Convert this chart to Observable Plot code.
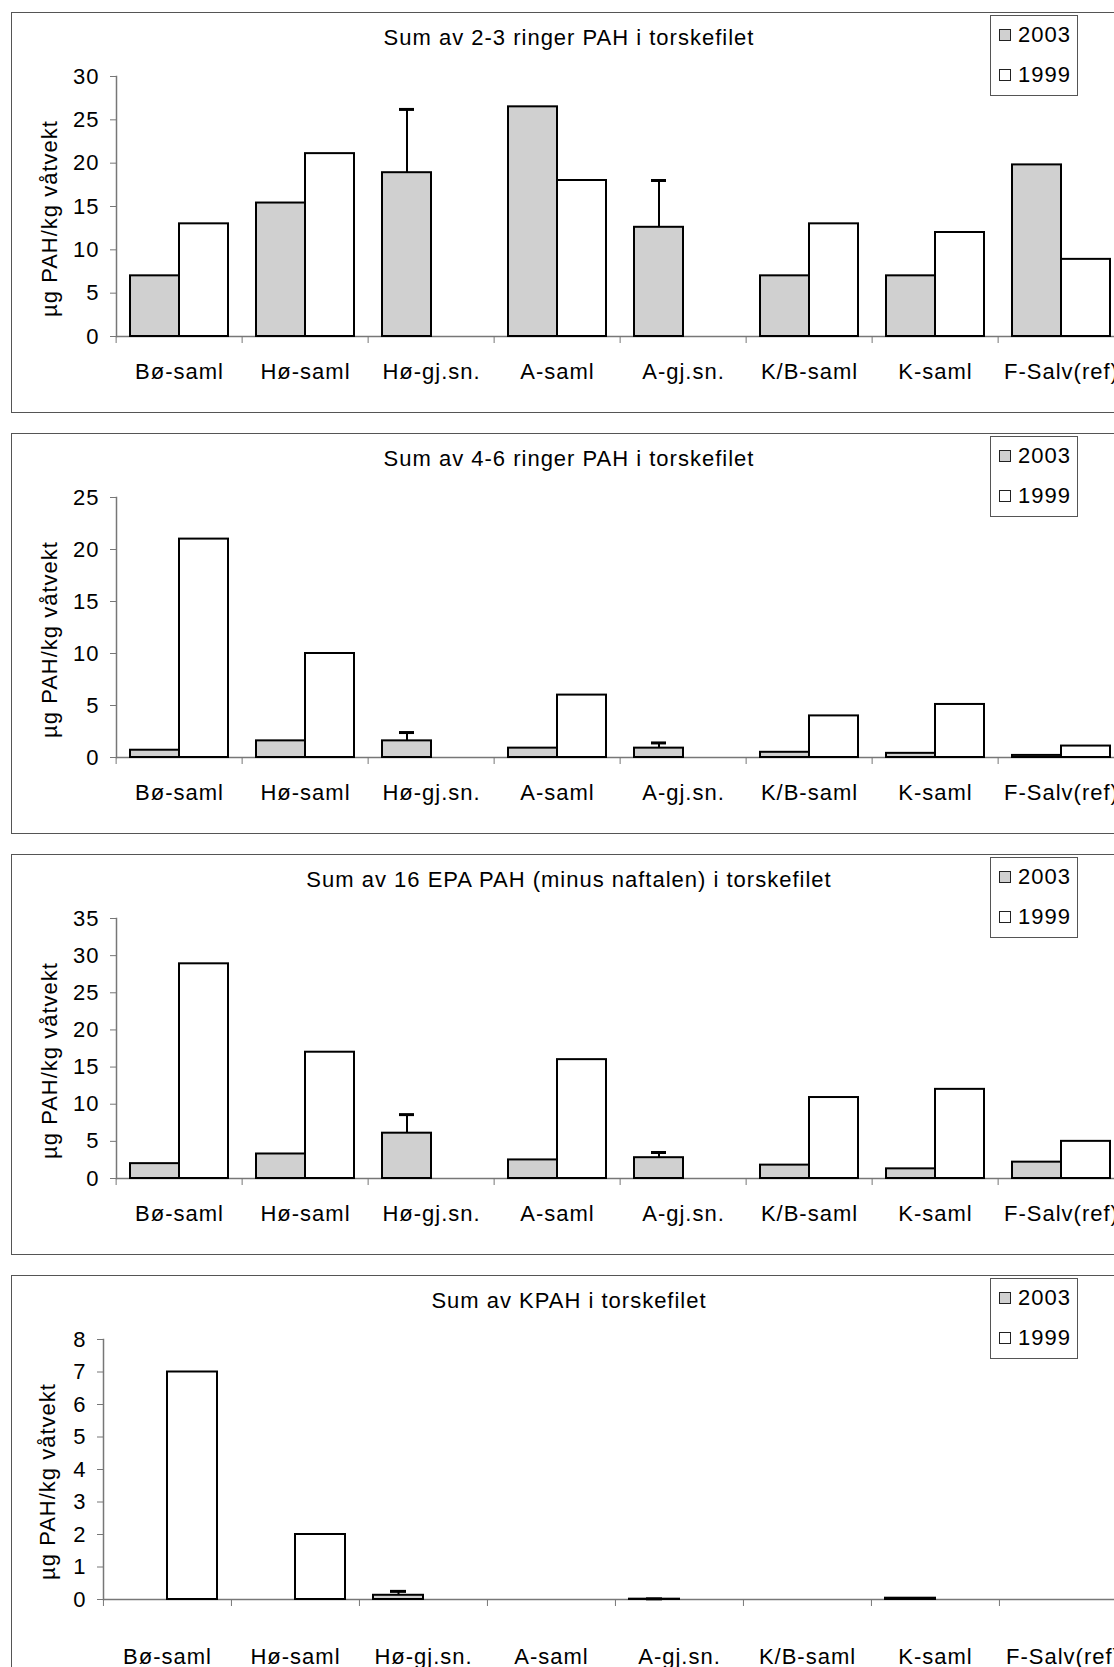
<!DOCTYPE html>
<html>
<head>
<meta charset="utf-8">
<script src="https://cdn.jsdelivr.net/npm/d3@7"></script>
<script src="https://cdn.jsdelivr.net/npm/@observablehq/plot@0.6"></script>
<style>
  html, body { margin: 0; padding: 0; background: #fff; overflow: hidden; }
  body { width: 1114px; height: 1667px; position: relative; font-family: "Liberation Sans", Arial, sans-serif; color: #000; }
  .panel { position: absolute; left: 0; width: 1140px; height: 402px; }
  .frame { position: absolute; left: 11px; top: 0; width: 1130px; height: 401px; border: 1.5px solid #555; box-sizing: border-box; }
  .panel svg { position: absolute; left: 0; top: 0; }
  .title { position: absolute; left: 0; width: 1138px; top: 15px; text-align: center; font-size: 22px; line-height: 22px; letter-spacing: 1px; white-space: nowrap; }
  .legend { position: absolute; left: 990px; top: 3px; width: 88px; height: 81px; border: 1.5px solid #555; box-sizing: border-box; background: #fff; }
  .legend .row { position: absolute; left: 8px; height: 22px; line-height: 22px; font-size: 22px; letter-spacing: 1px; white-space: nowrap; }
  .legend .sw { display: inline-block; width: 10px; height: 10px; border: 1.5px solid #222; margin-right: 7px; vertical-align: 1px; }
</style>
</head>
<body>
<div id="chart"></div>
<script>
// Sampling stations (x categories) and the two survey years
const categories = ["Bø-saml", "Hø-saml", "Hø-gj.sn.", "A-saml", "A-gj.sn.", "K/B-saml", "K-saml", "F-Salv(ref)"];
const years = ["2003", "1999"];
const yLabel = "µg PAH/kg våtvekt";

const titles = [
  "Sum av 2-3 ringer PAH i torskefilet",
  "Sum av 4-6 ringer PAH i torskefilet",
  "Sum av 16 EPA PAH (minus naftalen) i torskefilet",
  "Sum av KPAH i torskefilet"
];
const yMaxes = [30, 25, 35, 8];
const yTickSteps = [5, 5, 5, 1];

// Sum of 2-3 ring PAH
const ring23_2003 = [7, 15.4, 18.9, 26.5, 12.6, 7, 7, 19.8];
const ring23_1999 = [13, 21.1, null, 18, null, 13, 12, 8.9];
const ring23_err  = [null, null, 26.2, null, 18, null, null, null];

// Sum of 4-6 ring PAH
const ring46_2003 = [0.7, 1.6, 1.6, 0.9, 0.9, 0.5, 0.4, 0.2];
const ring46_1999 = [21, 10, null, 6, null, 4, 5.1, 1.1];
const ring46_err  = [null, null, 2.4, null, 1.4, null, null, null];

// Sum of 16 EPA PAH (excluding naphthalene)
const epa16_2003 = [2, 3.3, 6.1, 2.5, 2.8, 1.8, 1.3, 2.2];
const epa16_1999 = [28.9, 17, null, 16, null, 10.9, 12, 5];
const epa16_err  = [null, null, 8.6, null, 3.5, null, null, null];

// Sum of carcinogenic PAH
const kpah_2003 = [null, null, 0.13, null, 0.01, null, 0.04, null];
const kpah_1999 = [7, 2, null, null, null, null, null, null];
const kpah_err  = [null, null, 0.25, null, 0.02, null, null, null];

const series = [
  [ring23_2003, ring23_1999, ring23_err],
  [ring46_2003, ring46_1999, ring46_err],
  [epa16_2003, epa16_1999, epa16_err],
  [kpah_2003, kpah_1999, kpah_err]
];

// Layout
const W = 1140, H = 400, MR = 13, MT = 64, MB = 76;
const panelTops = [12, 433, 854, 1275];
const marginLefts = [113, 113, 113, 102];
const labelPads = [27, 27, 27, 49];
const GRAY = "#d0d0d0";
const AXIS = "#777";

const root = document.getElementById("chart");

series.forEach(([v2003, v1999, err], k) => {
  // one row per station and year; missing values stay null so every station keeps its facet
  const rows = [];
  categories.forEach((c, i) => {
    rows.push({category: c, year: "2003", value: v2003[i]});
    rows.push({category: c, year: "1999", value: v1999[i]});
  });
  const errs = categories
    .map((c, i) => err[i] == null ? null : {category: c, year: "2003", value: v2003[i], hi: err[i]})
    .filter(Boolean);

  const ml = marginLefts[k];
  const bw = (W - ml - MR) / categories.length;
  const yMax = yMaxes[k], step = yTickSteps[k];

  const plot = Plot.plot({
    width: W,
    height: H,
    marginLeft: ml,
    marginRight: MR,
    marginTop: MT,
    marginBottom: MB,
    style: {fontFamily: '"Liberation Sans", Arial, sans-serif', fontSize: "22px", letterSpacing: "1px", color: "#000", background: "transparent", overflow: "visible"},
    fx: {domain: categories, padding: 0, axis: null, label: null},
    x: {domain: years, paddingInner: 0, paddingOuter: 0.277, axis: null},
    y: {domain: [0, yMax], axis: null},
    color: {domain: years, range: [GRAY, "#ffffff"]},
    marks: [
      Plot.ruleY([0], {stroke: AXIS, strokeWidth: 1.5}),
      Plot.frame({anchor: "left", facet: "super", stroke: AXIS, strokeWidth: 1.5}),
      Plot.axisY({ticks: d3.range(0, yMax + step / 2, step), tickSize: 6, tickPadding: 11, stroke: AXIS, label: null}),
      Plot.axisFx({anchor: "bottom", tickSize: 0, tickPadding: labelPads[k], label: null}),
      Plot.axisFx({anchor: "bottom", tickSize: 7, fill: "none", stroke: AXIS, dx: -bw / 2, label: null}),
      Plot.barY(rows, {fx: "category", x: "year", y: "value", fill: "year", stroke: "#000", strokeWidth: 2, strokeLinejoin: "miter"}),
      Plot.ruleX(errs, {fx: "category", x: "year", y1: "value", y2: "hi", stroke: "#000", strokeWidth: 2}),
      Plot.tickY(errs, {fx: "category", x: "year", y: "hi", stroke: "#000", strokeWidth: 3, insetLeft: 17, insetRight: 17}),
      Plot.text([{category: categories[0], label: yLabel}], {fx: "category", text: "label", frameAnchor: "left", textAnchor: "middle", lineAnchor: "middle", rotate: -90, dx: 46 - ml, dy: 12, fill: "#000"})
    ]
  });

  const panel = document.createElement("div");
  panel.className = "panel";
  panel.style.top = panelTops[k] + "px";

  const frame = document.createElement("div");
  frame.className = "frame";
  panel.appendChild(frame);
  panel.appendChild(plot);

  const title = document.createElement("div");
  title.className = "title";
  title.textContent = titles[k];
  panel.appendChild(title);

  const legend = document.createElement("div");
  legend.className = "legend";
  years.forEach((y, j) => {
    const row = document.createElement("div");
    row.className = "row";
    row.style.top = (7.5 + 40 * j) + "px";
    const sw = document.createElement("span");
    sw.className = "sw";
    sw.style.background = j === 0 ? GRAY : "#fff";
    row.appendChild(sw);
    row.appendChild(document.createTextNode(y));
    legend.appendChild(row);
  });
  panel.appendChild(legend);

  root.appendChild(panel);
});
</script>
</body>
</html>
